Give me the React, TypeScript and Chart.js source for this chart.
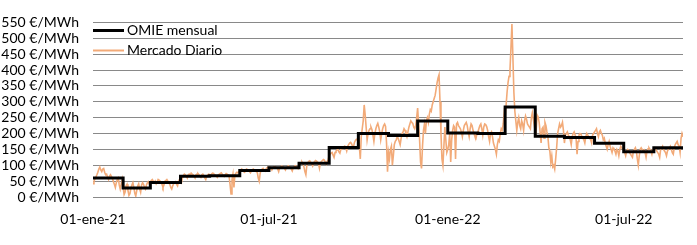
import { useEffect, useRef } from 'react';
import { Chart, registerables } from 'chart.js';

Chart.register(...registerables);

// ---- Data -------------------------------------------------------------
const monthStarts = [
  '2021-01-01', '2021-02-01', '2021-03-01', '2021-04-01', '2021-05-01', '2021-06-01',
  '2021-07-01', '2021-08-01', '2021-09-01', '2021-10-01', '2021-11-01', '2021-12-01',
  '2022-01-01', '2022-02-01', '2022-03-01', '2022-04-01', '2022-05-01', '2022-06-01',
  '2022-07-01', '2022-08-01',
];
const lastDate = '2022-08-31';

const omieMensual = [
  60.17, 28.49, 45.44, 65.02, 67.12, 83.3, 92.42, 105.94, 156.14, 199.9, 193.43, 239.16,
  201.72, 200.22, 283.3, 191.52, 187.13, 169.65, 142.67, 154.89,
];

const diario2021Ene = [42, 50, 57, 63, 70, 78, 88, 94, 85, 80, 88, 90, 78, 70, 72, 62, 55, 66, 70, 64, 58, 48, 40, 30, 45, 55, 60, 38, 25, 40, 55];
const diario2021Feb = [30, 8, 15, 35, 40, 20, 5, 10, 28, 38, 45, 30, 12, 3, 20, 35, 42, 25, 15, 38, 45, 40, 30, 25, 38, 45, 48, 40];
const diario2021Mar = [48, 52, 55, 50, 45, 50, 42, 48, 55, 53, 50, 46, 40, 30, 38, 50, 52, 55, 50, 45, 40, 30, 25, 35, 42, 45, 48, 40, 35, 50, 55];
const diario2021Abr = [50, 45, 60, 68, 72, 70, 65, 60, 70, 72, 68, 75, 72, 70, 65, 60, 70, 72, 74, 70, 66, 62, 70, 72, 68, 60, 55, 65, 70, 72];
const diario2021May = [70, 68, 72, 75, 74, 70, 68, 65, 62, 70, 72, 74, 76, 72, 68, 65, 70, 74, 72, 70, 66, 40, 10, 55, 72, 30, 70, 75, 78, 76, 80];
const diario2021Jun = [82, 85, 88, 84, 80, 78, 85, 88, 86, 84, 80, 76, 82, 86, 88, 85, 84, 80, 78, 60, 50, 75, 85, 88, 90, 86, 82, 88, 92, 94];
const diario2021Jul = [92, 94, 90, 85, 92, 95, 96, 94, 92, 88, 80, 92, 95, 97, 96, 94, 90, 85, 92, 96, 98, 95, 93, 88, 82, 92, 95, 98, 96, 94, 90];
const diario2021Ago = [100, 105, 108, 110, 104, 95, 80, 70, 100, 108, 112, 114, 110, 105, 98, 108, 112, 115, 113, 110, 105, 90, 108, 112, 115, 118, 116, 110, 104, 112, 118];
const diario2021Sep = [130, 135, 138, 140, 132, 125, 140, 145, 148, 150, 142, 138, 150, 155, 152, 158, 160, 155, 145, 160, 165, 170, 172, 168, 160, 158, 172, 178, 182, 180];
const diario2021Oct = [185, 160, 120, 190, 215, 240, 290, 260, 220, 180, 200, 210, 215, 220, 212, 195, 175, 200, 215, 225, 232, 220, 205, 180, 200, 215, 225, 230, 222, 170, 80];
const diario2021Nov = [140, 120, 150, 160, 100, 130, 165, 175, 180, 190, 185, 175, 165, 185, 200, 205, 215, 210, 200, 190, 205, 220, 230, 240, 235, 232, 220, 215, 225, 250];
const diario2021Dic = [280, 230, 180, 110, 90, 160, 210, 230, 200, 240, 250, 235, 260, 275, 270, 290, 300, 310, 320, 340, 360, 375, 385, 300, 200, 120, 100, 160, 220, 180, 140];
const diario2022Ene = [150, 165, 200, 110, 180, 210, 225, 220, 120, 230, 235, 225, 220, 215, 205, 190, 210, 225, 230, 235, 225, 205, 190, 215, 230, 225, 210, 200, 190, 185, 200];
const diario2022Feb = [205, 215, 225, 230, 215, 195, 220, 230, 228, 222, 210, 190, 175, 200, 205, 190, 170, 160, 150, 135, 165, 180, 175, 200, 215, 210, 230, 265];
const diario2022Mar = [250, 290, 330, 360, 380, 400, 470, 545, 440, 330, 270, 240, 210, 235, 250, 225, 215, 240, 230, 210, 240, 255, 245, 230, 225, 220, 215, 250, 265, 245, 225];
const diario2022Abr = [235, 215, 258, 252, 235, 205, 170, 215, 220, 185, 235, 225, 205, 190, 155, 145, 110, 130, 95, 100, 88, 120, 155, 200, 215, 230, 220, 225, 235, 210];
const diario2022May = [170, 195, 200, 205, 195, 190, 180, 165, 190, 200, 205, 195, 185, 135, 175, 195, 200, 198, 190, 185, 180, 170, 190, 200, 195, 190, 185, 180, 170, 195, 200];
const diario2022Jun = [205, 210, 215, 200, 190, 205, 210, 200, 195, 180, 185, 170, 160, 150, 165, 175, 160, 150, 140, 155, 150, 145, 135, 150, 145, 130, 150, 160, 155, 150];
const diario2022Jul = [150, 140, 130, 145, 150, 148, 140, 135, 130, 125, 145, 150, 155, 145, 120, 100, 130, 150, 155, 150, 145, 148, 140, 125, 145, 152, 155, 150, 145, 135, 150];
const diario2022Ago = [150, 155, 150, 145, 140, 135, 125, 150, 155, 160, 150, 145, 140, 130, 145, 150, 155, 160, 150, 140, 135, 155, 165, 170, 175, 165, 160, 140, 185, 200, 190];

const diarioPorMes = [
  diario2021Ene, diario2021Feb, diario2021Mar, diario2021Abr, diario2021May, diario2021Jun,
  diario2021Jul, diario2021Ago, diario2021Sep, diario2021Oct, diario2021Nov, diario2021Dic,
  diario2022Ene, diario2022Feb, diario2022Mar, diario2022Abr, diario2022May, diario2022Jun,
  diario2022Jul, diario2022Ago,
];

const tickDates = ['2021-01-01', '2021-07-01', '2022-01-01', '2022-07-01'];
const tickLabels = ['01-ene-21', '01-jul-21', '01-ene-22', '01-jul-22'];

const yMin = 0;
const yMax = 550;
const yStep = 50;
const yUnit = ' €/MWh';

const seriesNames = ['OMIE mensual', 'Mercado Diario'];

// ---- Helpers ------------------------------------------------------------
const ORIGIN = Date.UTC(2021, 0, 1);
const dayIndex = (iso: string) =>
  Math.round((Date.parse(iso + 'T00:00:00Z') - ORIGIN) / 86400000);

const FONT = { family: 'Lato', size: 14 };

const insideLegend = {
  id: 'insideLegend',
  afterDatasetsDraw(chart: any) {
    const ctx = chart.ctx;
    const { left, top } = chart.chartArea;
    chart.data.datasets.forEach((ds: any, i: number) => {
      const y = Math.round(top + 8 + i * 19.5) + 0.5;
      ctx.save();
      ctx.strokeStyle = ds.borderColor;
      ctx.lineWidth = i === 0 ? 3 : 2;
      ctx.beginPath();
      ctx.moveTo(left, y);
      ctx.lineTo(left + 31, y);
      ctx.stroke();
      ctx.fillStyle = '#000';
      ctx.font = `${FONT.size}px ${FONT.family}`;
      ctx.textBaseline = 'middle';
      ctx.textAlign = 'left';
      ctx.fillText(ds.label, left + 34, y);
      ctx.restore();
    });
  },
};

export default function App() {
  const ref = useRef<HTMLCanvasElement | null>(null);

  useEffect(() => {
    if (!ref.current) return;

    const monthly = monthStarts.map((d, i) => ({ x: dayIndex(d), y: omieMensual[i] }));
    monthly.push({ x: dayIndex(lastDate), y: omieMensual[omieMensual.length - 1] });

    const daily: { x: number; y: number }[] = [];
    diarioPorMes.forEach((arr, m) => {
      const start = dayIndex(monthStarts[m]);
      arr.forEach((v, k) => daily.push({ x: start + k, y: v }));
    });

    const tickValues = tickDates.map(dayIndex);

    const chart = new Chart(ref.current, {
      type: 'line',
      data: {
        datasets: [
          {
            label: seriesNames[0],
            data: monthly,
            borderColor: '#000000',
            borderWidth: 3,
            stepped: 'before',
            pointRadius: 0,
            borderJoinStyle: 'miter',
            borderCapStyle: 'butt',
          },
          {
            label: seriesNames[1],
            data: daily,
            borderColor: '#F2AA78',
            borderWidth: 1.6,
            pointRadius: 0,
            tension: 0,
          },
        ],
      } as any,
      options: {
        animation: false,
        responsive: false,
        parsing: false as any,
        layout: { padding: { top: 12, right: 14, left: 0, bottom: 0 } },
        plugins: {
          legend: { display: false },
          tooltip: { enabled: false },
        },
        scales: {
          x: {
            type: 'linear',
            min: dayIndex(monthStarts[0]),
            max: dayIndex(lastDate),
            grid: { display: false },
            border: { display: false },
            afterBuildTicks: (scale: any) => {
              scale.ticks = tickValues.map((v) => ({ value: v }));
            },
            afterFit: (scale: any) => {
              scale.height = 48;
            },
            ticks: {
              autoSkip: false,
              maxRotation: 0,
              padding: 6,
              color: '#000',
              font: FONT,
              callback: (v: any) => {
                const i = tickValues.indexOf(Number(v));
                return i >= 0 ? tickLabels[i] : '';
              },
            },
          },
          y: {
            min: yMin,
            max: yMax,
            grid: { color: '#898989', lineWidth: 1, drawTicks: false },
            border: { display: false },
            afterFit: (scale: any) => {
              scale.width = 93;
            },
            ticks: {
              stepSize: yStep,
              autoSkip: false,
              padding: 14,
              color: '#000',
              font: FONT,
              callback: (v: any) => `${v}${yUnit}`,
            },
          },
        },
      } as any,
      plugins: [insideLegend],
    });

    return () => chart.destroy();
  }, []);

  return (
    <div style={{ position: 'absolute', left: 0, top: 0, width: 697, height: 245, background: '#fff' }}>
      <canvas ref={ref} width={697} height={245} />
    </div>
  );
}
